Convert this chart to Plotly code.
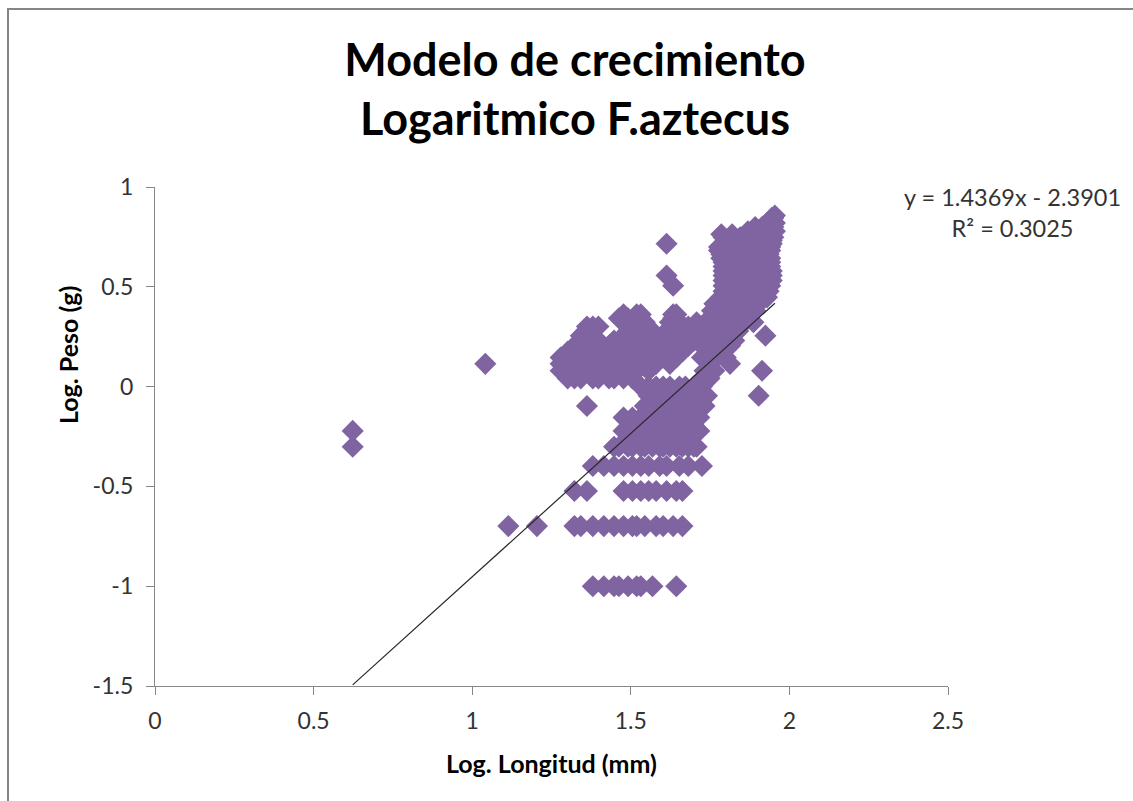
import numpy as np
import plotly.graph_objects as go

# Tallas (mm) registradas para cada clase de peso (g) de F. aztecus
tallas_0_1g = [24, 26, 28, 29, 31, 33, 34, 37, 44]
tallas_0_2g = [13, 16, 21, 22, 24, 26, 28, 30, 32, 33, 35, 38, 40, 43, 46]
tallas_0_3g = [21, 23, 30, 32, 34, 36, 38, 41, 44, 46]
tallas_0_4g = [24, 26, 28, 30, 32, 34, 36, 39, 41, 45, 48, 53]
tallas_0_5g = [4.2, 28, 29, 31, 32, 34, 35, 37, 39, 40, 42, 44, 46, 48, 50, 51]
tallas_0_6g = [4.2, 30, 31, 33, 35, 36, 38, 40, 42, 44, 46, 49, 52]
tallas_0_7g = [30, 32, 34, 36, 38, 39, 41, 43, 45, 47, 50, 52]
tallas_0_8g = [23, 35, 37, 39, 41, 43, 46, 48, 51, 54]
tallas_0_9g = [36, 38, 40, 42, 44, 47, 49, 52, 55, 80]
tallas_1_0g = [34, 36, 38, 40, 42, 45, 47, 50, 53]
tallas_1_1g = [20, 21, 22, 24, 25, 27, 28, 30, 32, 53, 56]
tallas_1_2g = [19, 23, 26, 29, 33, 36, 54, 58, 82]
tallas_1_3g = [11, 19, 21, 24, 27, 31, 34, 38, 42, 65]
tallas_1_4g = [19, 20, 22, 25, 28, 32, 35, 40, 44, 53, 55, 59, 63]
tallas_1_5g = [20, 23, 26, 29, 33, 37, 41, 46, 57, 61]
tallas_1_6g = [21, 24, 27, 30, 34, 38, 43, 48, 53, 56, 60, 65]
tallas_1_7g = [22, 25, 28, 31, 35, 39, 45, 50, 58, 62, 67]
tallas_1_8g = [22, 24, 30, 32, 36, 40, 42, 47, 54, 60, 65, 84]
tallas_1_9g = [23, 31, 33, 37, 41, 44, 49, 57, 63, 69]
tallas_2_0g = [23, 24, 25, 32, 34, 35, 43, 48, 55, 58, 62, 66, 70]
tallas_2_1g = [30, 33, 35, 42, 45, 51, 60, 64, 77]
tallas_2_2g = [29, 31, 34, 43, 56, 59, 63, 67, 72, 74]
tallas_2_3g = [30, 33, 34, 43, 44, 61, 68]
tallas_2_4g = [57, 60, 64, 68, 73, 78]
tallas_2_6g = [58, 61, 65, 70, 75, 80]
tallas_2_8g = [61, 62, 66, 71, 76, 81, 85]
tallas_3_0g = [62, 63, 67, 72, 77, 82, 86]
tallas_3_2g = [43, 62, 65, 69, 74, 79, 84, 87]
tallas_3_4g = [62, 66, 70, 75, 80, 85, 88]
tallas_3_6g = [41, 62, 64, 68, 73, 78, 83, 88]
tallas_3_8g = [62, 66, 71, 76, 81, 86, 88]
tallas_4_0g = [62, 65, 70, 75, 80, 85, 87]
tallas_4_2g = [62, 67, 72, 77, 82, 87]
tallas_4_4g = [61, 64, 69, 74, 79, 84, 87]
tallas_4_6g = [61, 66, 71, 76, 81, 86]
tallas_4_8g = [60, 63, 68, 73, 78, 83, 87]
tallas_5_0g = [60, 63, 70, 77, 80, 85, 87]
tallas_5_2g = [41, 62, 75, 82, 86, 88]
tallas_5_4g = [63, 72, 79, 84, 88]
tallas_5_6g = [62, 70, 81, 86, 89]
tallas_5_8g = [61, 66, 76, 83, 87]
tallas_6_0g = [74, 80, 84, 88, 90]
tallas_6_3g = [78, 82, 86, 89]
tallas_6_6g = [85, 87, 90]
tallas_7_0g = [88, 89]
tallas_7_2g = [90]

clases_peso = [
    (0.1, tallas_0_1g), (0.2, tallas_0_2g), (0.3, tallas_0_3g), (0.4, tallas_0_4g),
    (0.5, tallas_0_5g), (0.6, tallas_0_6g), (0.7, tallas_0_7g), (0.8, tallas_0_8g),
    (0.9, tallas_0_9g), (1.0, tallas_1_0g), (1.1, tallas_1_1g), (1.2, tallas_1_2g),
    (1.3, tallas_1_3g), (1.4, tallas_1_4g), (1.5, tallas_1_5g), (1.6, tallas_1_6g),
    (1.7, tallas_1_7g), (1.8, tallas_1_8g), (1.9, tallas_1_9g), (2.0, tallas_2_0g),
    (2.1, tallas_2_1g), (2.2, tallas_2_2g), (2.3, tallas_2_3g), (2.4, tallas_2_4g),
    (2.6, tallas_2_6g), (2.8, tallas_2_8g), (3.0, tallas_3_0g), (3.2, tallas_3_2g),
    (3.4, tallas_3_4g), (3.6, tallas_3_6g), (3.8, tallas_3_8g), (4.0, tallas_4_0g),
    (4.2, tallas_4_2g), (4.4, tallas_4_4g), (4.6, tallas_4_6g), (4.8, tallas_4_8g),
    (5.0, tallas_5_0g), (5.2, tallas_5_2g), (5.4, tallas_5_4g), (5.6, tallas_5_6g),
    (5.8, tallas_5_8g), (6.0, tallas_6_0g), (6.3, tallas_6_3g), (6.6, tallas_6_6g),
    (7.0, tallas_7_0g), (7.2, tallas_7_2g),
]

# Recta de tendencia publicada en la gráfica
pendiente = 1.4369
intercepto = -2.3901
r_cuadrado = 0.3025

ticks_x = [0, 0.5, 1, 1.5, 2, 2.5]
etiquetas_x = ["0", "0.5", "1", "1.5", "2", "2.5"]
ticks_y = [-1.5, -1, -0.5, 0, 0.5, 1]
etiquetas_y = ["-1.5", "-1", "-0.5", "0", "0.5", "1"]

longitud_mm = np.array([t for _, ts in clases_peso for t in ts], dtype=float)
peso_g = np.array([p for p, ts in clases_peso for _ in ts], dtype=float)
log_longitud = np.log10(longitud_mm)
log_peso = np.log10(peso_g)

x_recta = np.array([log_longitud.min(), log_longitud.max()])
y_recta = pendiente * x_recta + intercepto

FUENTE = "Lato"
GRIS_EJE = "#868686"

fig = go.Figure()
fig.add_trace(go.Scatter(
    x=log_longitud, y=log_peso, mode="markers",
    marker=dict(symbol="diamond", size=17, color="#8064A2", line=dict(width=0)),
    showlegend=False, hoverinfo="x+y",
))
fig.add_trace(go.Scatter(
    x=x_recta, y=y_recta, mode="lines",
    line=dict(color="#262626", width=1.2),
    showlegend=False, hoverinfo="skip",
))

eje = dict(
    showgrid=False, zeroline=False, showline=True, linecolor=GRIS_EJE, linewidth=1.3,
    ticks="outside", ticklen=8, tickcolor=GRIS_EJE, tickwidth=1.3,
    tickfont=dict(family=FUENTE, size=23, color="#333333"),
)
fig.update_xaxes(range=[0, 2.5], tickvals=ticks_x, ticktext=etiquetas_x,
                 ticklabelstandoff=6, **eje)
fig.update_yaxes(range=[-1.5, 1], tickvals=ticks_y, ticktext=etiquetas_y,
                 ticklabelstandoff=8, **eje)

ecuacion = (f"y = {pendiente}x - {abs(intercepto)}<br>"
            f"R² = {r_cuadrado}")

fig.update_layout(
    width=1133, height=801,
    margin=dict(l=155, r=185, t=187, b=115),
    paper_bgcolor="white", plot_bgcolor="white",
    font=dict(family=FUENTE, color="black"),
    title=dict(
        text="<b>Modelo de crecimiento<br>Logaritmico F.aztecus</b>",
        font=dict(family=FUENTE, size=45, color="black"),
        x=575 / 1133, xref="container", xanchor="center",
        y=1 - 76 / 801, yref="container", yanchor="middle",
    ),
    annotations=[
        dict(text="<b>Log. Longitud (mm)</b>", xref="paper", yref="paper",
             x=0.5, y=(686 - 763) / 499, xanchor="center", yanchor="middle",
             showarrow=False, font=dict(family=FUENTE, size=25, color="black")),
        dict(text="<b>Log. Peso (g)</b>", xref="paper", yref="paper",
             x=(68 - 155) / 793, y=(686 - 355) / 499, textangle=-90,
             xanchor="center", yanchor="middle",
             showarrow=False, font=dict(family=FUENTE, size=25, color="black")),
        dict(text=ecuacion, xref="paper", yref="paper",
             x=(1012 - 155) / 793, y=(686 - 212) / 499,
             xanchor="center", yanchor="middle", align="center",
             showarrow=False, font=dict(family=FUENTE, size=23.5, color="#333333")),
    ],
    shapes=[
        dict(type="rect", xref="paper", yref="paper", layer="above",
             x0=(8 - 155) / 793, x1=(1150 - 155) / 793,
             y0=(686 - 815) / 499, y1=(686 - 9) / 499,
             line=dict(color=GRIS_EJE, width=2), fillcolor="rgba(0,0,0,0)"),
    ],
)

fig.write_html("out.html")
